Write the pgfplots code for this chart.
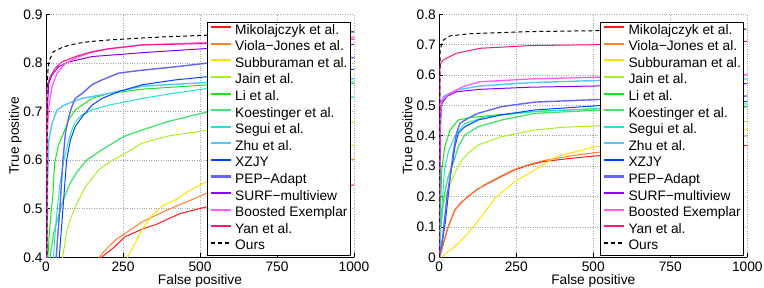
\documentclass[border=0pt]{standalone}
\usepackage{pgfplots}
\pgfplotsset{compat=1.18}
\usepackage{fontspec}
\setmainfont{Liberation Sans}
\definecolor{cmik}{RGB}{255,25,25}
\definecolor{cvio}{RGB}{255,128,40}
\definecolor{csub}{RGB}{255,225,0}
\definecolor{cjai}{RGB}{170,240,30}
\definecolor{cgli}{RGB}{20,230,20}
\definecolor{ckoe}{RGB}{70,225,110}
\definecolor{cseg}{RGB}{30,230,200}
\definecolor{czhu}{RGB}{80,200,255}
\definecolor{cxzj}{RGB}{0,70,255}
\definecolor{cpep}{RGB}{100,100,255}
\definecolor{csur}{RGB}{140,0,255}
\definecolor{cboo}{RGB}{255,90,255}
\definecolor{cyanx}{RGB}{255,20,120}
\pgfplotsset{
  lg/.style 2 args={legend image code/.code={\draw[color=#1, line width=#2] (0bp,3.5bp) -- (20bp,3.5bp);}},
  myax/.style={
    scale only axis, width=308bp, height=243bp,
    anchor=south west,
    xmin=0, xmax=1000,
    xtick={0,250,500,750,1000},
    axis x line*=bottom, axis y line*=left,
    axis line style={black, line width=0.8bp},
    tick align=inside, major tick length=4bp,
    tick style={black, line width=0.6bp},
    grid=major, grid style={dotted, gray!70, line width=0.6bp},
    font=\fontsize{13.8}{16}\selectfont,
    /pgf/number format/assume math mode=true,
    /pgf/number format/1000 sep={},
    yticklabel style={/pgf/number format/fixed, /pgf/number format/precision=1},
    xticklabel style={inner sep=0pt, yshift=-4.5bp},
    every axis x label/.style={at={(axis description cs:0.5,0)}, anchor=north, yshift=-17bp, inner sep=0pt},
    every axis y label/.style={at={(axis description cs:0,0.5)}, xshift=-24bp, rotate=90, anchor=south, inner sep=0pt},
    xlabel={False positive}, ylabel={True positive},
    no marks,
    legend cell align=left,
    legend style={at={(1,1)}, anchor=north east, xshift=-3bp, yshift=-7.4bp,
      draw=black, line width=0.9bp, fill=white, inner xsep=3bp, inner ysep=2bp,
      font=\fontsize{13.8}{16}\selectfont,
      nodes={inner sep=0bp, text height=10bp, text depth=3bp},
      row sep=3.6bp, column sep=3bp},
  }
}
\begin{document}
\begin{tikzpicture}
\path[use as bounding box] (0,0) rectangle (764bp,288bp);
\begin{axis}[myax, at={(46bp,30.7bp)}, ymin=0.4, ymax=0.9, ytick={0.4,0.5,0.6,0.7,0.8,0.9}]
\addplot[color=cmik, line width=1bp, lg={cmik}{1.8bp}] coordinates {(175,0.39)(180,0.40)(220,0.42)(256,0.442)(312,0.458)(359,0.468)(435,0.49)(522,0.504)(700,0.522)(850,0.535)(1000,0.549)};
\addlegendentry{Mikolajczyk et al.}
\addplot[color=cvio, line width=1bp, lg={cvio}{1.8bp}] coordinates {(168,0.39)(172,0.40)(200,0.42)(230,0.438)(273,0.456)(312,0.473)(392,0.497)(460,0.515)(522,0.532)(700,0.56)(850,0.582)(1000,0.602)};
\addlegendentry{Viola−Jones et al.}
\addplot[color=csub, line width=1bp, lg={csub}{1.8bp}] coordinates {(262,0.39)(264,0.40)(290,0.43)(310,0.455)(340,0.483)(375,0.505)(420,0.518)(460,0.535)(522,0.556)(700,0.59)(850,0.612)(1000,0.631)};
\addlegendentry{Subburaman et al.}
\addplot[color=cjai, line width=1bp, lg={cjai}{1.8bp}] coordinates {(52,0.39)(54,0.40)(68,0.456)(80,0.48)(95,0.504)(128,0.545)(171,0.58)(210,0.598)(247,0.61)(312,0.635)(400,0.65)(530,0.662)(750,0.671)(1000,0.678)};
\addlegendentry{Jain et al.}
\addplot[color=cgli, line width=1bp, lg={cgli}{2bp}] coordinates {(4,0.39)(6,0.40)(11,0.45)(16,0.49)(22,0.525)(28,0.593)(40,0.63)(52,0.648)(74,0.683)(95,0.703)(117,0.713)(149,0.727)(203,0.737)(312,0.746)(530,0.755)(1000,0.758)};
\addlegendentry{Li et al.}
\addplot[color=ckoe, line width=1.3bp, lg={ckoe}{2bp}] coordinates {(11,0.39)(13,0.40)(25,0.45)(40,0.484)(56,0.518)(78,0.552)(100,0.575)(132,0.60)(181,0.621)(251,0.648)(312,0.662)(400,0.68)(530,0.70)(750,0.716)(1000,0.73)};
\addlegendentry{Koestinger et al.}
\addplot[color=cseg, line width=1bp, lg={cseg}{1.8bp}] coordinates {(22,0.39)(24,0.40)(32,0.47)(45,0.55)(58,0.60)(74,0.641)(84,0.662)(95,0.679)(117,0.693)(149,0.703)(203,0.713)(312,0.727)(420,0.738)(530,0.748)(1000,0.761)};
\addlegendentry{Segui et al.}
\addplot[color=czhu, line width=1.4bp, lg={czhu}{2.2bp}] coordinates {(2,0.39)(3,0.40)(5,0.55)(9,0.641)(19.5,0.676)(36,0.703)(55,0.712)(74,0.717)(117,0.727)(203,0.737)(312,0.752)(530,0.76)(1000,0.767)};
\addlegendentry{Zhu et al.}
\addplot[color=cxzj, line width=1bp, lg={cxzj}{1.8bp}] coordinates {(42,0.39)(43,0.40)(55,0.50)(67,0.60)(79,0.641)(95,0.669)(117,0.689)(149,0.713)(182,0.727)(236,0.741)(312,0.755)(420,0.765)(530,0.772)(1000,0.787)};
\addlegendentry{XZJY}
\addplot[color=cpep, line width=1.4bp, lg={cpep}{2.2bp}] coordinates {(32,0.39)(33,0.40)(45,0.50)(55,0.60)(63,0.655)(74,0.689)(84,0.71)(95,0.727)(117,0.737)(149,0.755)(182,0.765)(236,0.779)(312,0.785)(420,0.792)(530,0.80)(1000,0.811)};
\addlegendentry{PEP−Adapt}
\addplot[color=csur, line width=1bp, lg={csur}{1.8bp}] coordinates {(2,0.39)(3,0.40)(4,0.70)(9,0.758)(19.5,0.775)(41,0.792)(74,0.802)(149,0.813)(312,0.821)(530,0.83)(1000,0.838)};
\addlegendentry{SURF−multiview}
\addplot[color=cboo, line width=1.3bp, lg={cboo}{2bp}] coordinates {(1,0.39)(2,0.40)(4,0.65)(9,0.71)(19.5,0.751)(36,0.779)(63,0.799)(95,0.81)(149,0.822)(203,0.829)(312,0.837)(530,0.842)(1000,0.853)};
\addlegendentry{Boosted Exemplar}
\addplot[color=cyanx, line width=1bp, lg={cyanx}{2bp}] coordinates {(0.5,0.39)(1,0.40)(2,0.74)(5,0.755)(10,0.765)(14,0.772)(30,0.789)(52,0.802)(95,0.813)(149,0.823)(203,0.829)(312,0.837)(530,0.84)(1000,0.849)};
\addlegendentry{Yan et al.}
\addplot[color=black, line width=1bp, dash pattern=on 4bp off 3bp, legend image code/.code={\draw[color=black, line width=1.2bp, dash pattern=on 4bp off 3bp] (0bp,3.5bp) -- (20bp,3.5bp);}] coordinates {(2,0.39)(3,0.40)(3.5,0.70)(4,0.761)(7,0.790)(11,0.806)(24,0.823)(56,0.833)(100,0.840)(143,0.844)(200,0.847)(305,0.851)(400,0.854)(522,0.857)(700,0.860)(1000,0.864)};
\addlegendentry{Ours}
\end{axis}
\begin{axis}[myax, at={(439.3bp,30.7bp)}, ymin=0, ymax=0.8, ytick={0,0.1,0.2,0.3,0.4,0.5,0.6,0.7,0.8}]
\addplot[color=cmik, line width=1bp, lg={cmik}{1.8bp}] coordinates {(0,0)(8,0.025)(29,0.10)(51,0.156)(70,0.18)(94,0.20)(120,0.222)(148,0.238)(202,0.266)(245,0.288)(290,0.303)(337,0.315)(420,0.325)(510,0.334)(750,0.352)(1000,0.368)};
\addlegendentry{Mikolajczyk et al.}
\addplot[color=cvio, line width=1bp, lg={cvio}{1.8bp}] coordinates {(0,0)(8,0.027)(29,0.103)(51,0.158)(94,0.202)(148,0.24)(202,0.268)(245,0.29)(290,0.305)(337,0.318)(420,0.333)(510,0.345)(750,0.375)(1000,0.40)};
\addlegendentry{Viola−Jones et al.}
\addplot[color=csub, line width=1bp, lg={csub}{1.8bp}] coordinates {(8,0)(30,0.02)(51,0.036)(94,0.08)(137,0.134)(181,0.195)(245,0.249)(310,0.288)(381,0.332)(510,0.365)(750,0.398)(1000,0.422)};
\addlegendentry{Subburaman et al.}
\addplot[color=cjai, line width=1bp, lg={cjai}{1.8bp}] coordinates {(0,0)(5,0.1)(12,0.17)(20,0.2)(45,0.265)(62,0.30)(72,0.318)(94,0.343)(126,0.37)(202,0.397)(310,0.419)(400,0.428)(530,0.433)(750,0.44)(1000,0.447)};
\addlegendentry{Jain et al.}
\addplot[color=cgli, line width=1bp, lg={cgli}{2bp}] coordinates {(0,0)(3,0.15)(8,0.288)(18,0.365)(35,0.419)(62,0.452)(100,0.46)(200,0.47)(310,0.48)(530,0.49)(1000,0.497)};
\addlegendentry{Li et al.}
\addplot[color=ckoe, line width=1.3bp, lg={ckoe}{2bp}] coordinates {(0,0)(5,0.1)(15,0.2)(30,0.27)(45,0.31)(62,0.365)(83,0.403)(126,0.43)(202,0.452)(310,0.474)(530,0.485)(1000,0.495)};
\addlegendentry{Koestinger et al.}
\addplot[color=cseg, line width=1bp, lg={cseg}{1.8bp}] coordinates {(0,0)(5,0.12)(17,0.288)(30,0.35)(51,0.40)(83,0.44)(148,0.462)(310,0.48)(530,0.49)(1000,0.505)};
\addlegendentry{Segui et al.}
\addplot[color=czhu, line width=1.4bp, lg={czhu}{2.2bp}] coordinates {(0,0)(2,0.3)(5,0.48)(13,0.529)(56,0.551)(132,0.564)(294,0.575)(510,0.582)(1000,0.587)};
\addlegendentry{Zhu et al.}
\addplot[color=cxzj, line width=1bp, lg={cxzj}{1.8bp}] coordinates {(0,0)(10,0.05)(20,0.12)(35,0.26)(51,0.365)(62,0.409)(83,0.43)(126,0.452)(202,0.469)(310,0.485)(530,0.50)(1000,0.513)};
\addlegendentry{XZJY}
\addplot[color=cpep, line width=1.4bp, lg={cpep}{2.2bp}] coordinates {(0,0)(10,0.06)(25,0.2)(35,0.266)(45,0.343)(56,0.409)(67,0.441)(94,0.458)(126,0.474)(202,0.496)(310,0.511)(530,0.52)(1000,0.531)};
\addlegendentry{PEP−Adapt}
\addplot[color=csur, line width=1bp, lg={csur}{1.8bp}] coordinates {(0,0)(2,0.3)(4,0.45)(8,0.507)(25,0.53)(56,0.545)(132,0.553)(294,0.56)(510,0.564)(1000,0.572)};
\addlegendentry{SURF−multiview}
\addplot[color=cboo, line width=1.3bp, lg={cboo}{2bp}] coordinates {(0,0)(1,0.3)(3,0.45)(8,0.518)(35,0.540)(78,0.562)(132,0.578)(294,0.587)(510,0.593)(1000,0.601)};
\addlegendentry{Boosted Exemplar}
\addplot[color=cyanx, line width=1bp, lg={cyanx}{2bp}] coordinates {(0,0)(1,0.4)(2,0.63)(5,0.64)(13,0.650)(56,0.672)(132,0.688)(294,0.697)(510,0.70)(1000,0.711)};
\addlegendentry{Yan et al.}
\addplot[color=black, line width=1bp, dash pattern=on 4bp off 3bp, legend image code/.code={\draw[color=black, line width=1.2bp, dash pattern=on 4bp off 3bp] (0bp,3.5bp) -- (20bp,3.5bp);}] coordinates {(0,0)(1,0.3)(2,0.6)(3,0.68)(7,0.70)(13,0.715)(35,0.729)(100,0.736)(294,0.743)(510,0.746)(1000,0.751)};
\addlegendentry{Ours}
\end{axis}
\end{tikzpicture}
\end{document}
